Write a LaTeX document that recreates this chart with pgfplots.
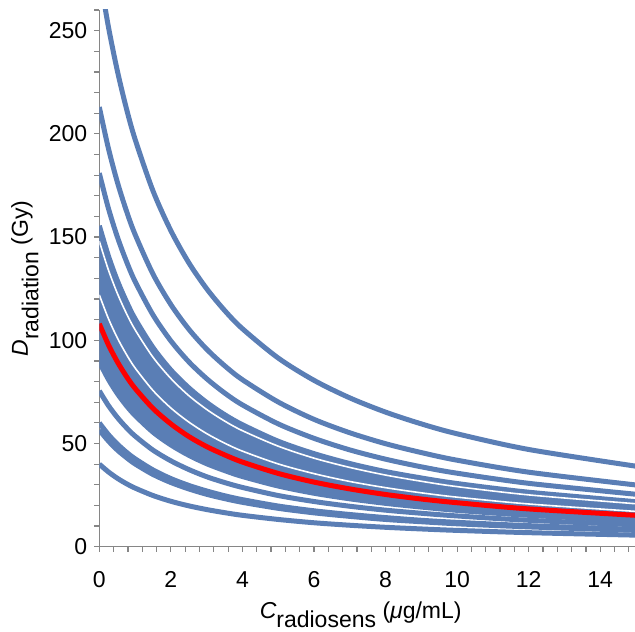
\documentclass[border=0pt]{standalone}
\usepackage{pgfplots}
\pgfplotsset{compat=1.18}
\usepgfplotslibrary{fillbetween}
\usepackage{fontspec}
\setmainfont{Liberation Sans}
\definecolor{cblue}{HTML}{5A7EB5}
\definecolor{axgray}{HTML}{868686}
\begin{document}
\begin{tikzpicture}
\begin{axis}[
 width=268.35pt, height=268.35pt, scale only axis,
 xmin=0, xmax=15, ymin=0, ymax=260,
 axis lines*=left,
 axis line style={axgray, line width=0.75pt},
 xtick={0,2,...,14}, ytick={0,50,...,250},
 minor xtick={0,0.4,...,15.1}, minor ytick={0,10,...,260},
 tick align=outside,
 major tick length=2.5pt, minor tick length=2.5pt,
 tick style={axgray, line width=0.6pt},
 every tick label/.append style={font=\fontsize{11.5}{13}\selectfont},
 xticklabel style={anchor=north, yshift=-6.5pt},
 /pgf/number format/assume math mode=true,
 xlabel={{\itshape C}\raisebox{-0.4em}{radiosens} (\textit{μ}g/mL)},
 ylabel={{\itshape D}\raisebox{-0.45em}{radiation} (Gy)},
 label style={font=\fontsize{11.5}{13}\selectfont},
 xlabel style={at={(axis description cs:0.487,0)}, anchor=base, yshift=-36pt},
 ylabel style={at={(axis description cs:-0.133,0.5)}, anchor=base},
 crv/.style={smooth, line width=2.5pt, cblue},
]
% band boundaries and fill
\addplot[crv, name path=upper] coordinates {(0,155.5) (0.25,141.1) (0.5,129.1) (0.75,119.1) (1,110.4) (1.5,96.5) (2,85.6) (2.5,77.0) (3,69.9) (3.5,64.0) (4,59.1) (5,51.1) (6,45.1) (7,40.3) (8,36.4) (9,33.3) (10,30.6) (12,26.4) (15,21.8)};
\addplot[crv, name path=lower] coordinates {(0,89.5) (0.25,81.2) (0.5,74.3) (0.75,68.5) (1,63.6) (1.5,55.5) (2,49.3) (2.5,44.3) (3,40.2) (3.5,36.9) (4,34.0) (5,29.4) (6,25.9) (7,23.2) (8,21.0) (9,19.2) (10,17.6) (12,15.2) (15,12.6)};
\addplot[cblue] fill between[of=upper and lower];
% white gaps inside band
\addplot[smooth, white, line width=0.8pt] coordinates {(0,148) (0.25,134.3) (0.5,122.9) (0.75,113.3) (1,105.1) (1.5,91.8) (2,81.5) (2.5,73.2) (3,66.5) (3.5,60.9) (4,56.2) (5,48.7) (6,42.9) (7,38.4) (8,34.7) (9,31.7) (10,29.1) (12,25.1) (15,20.8)};
\addplot[smooth, white, line width=0.8pt] coordinates {(0,122) (0.25,110.7) (0.5,101.3) (0.75,93.4) (1,86.6) (1.5,75.7) (2,67.2) (2.5,60.4) (3,54.8) (3.5,50.2) (4,46.3) (5,40.1) (6,35.4) (7,31.6) (8,28.6) (9,26.1) (10,24.0) (12,20.7) (15,17.1)};
% upper curves
\addplot[crv] coordinates {(0,278) (0.25,252.3) (0.5,230.9) (0.75,212.8) (1,197.4) (1.5,172.4) (2,153.1) (2.5,137.6) (3,125.0) (3.5,114.5) (4,105.6) (5,91.4) (6,80.6) (7,72.1) (8,65.2) (9,59.5) (10,54.7) (12,47.1) (15,39.0)};
\addplot[crv] coordinates {(0,213) (0.25,193.3) (0.5,176.9) (0.75,163.1) (1,151.3) (1.5,132.1) (2,117.3) (2.5,105.4) (3,95.7) (3.5,87.7) (4,80.9) (5,70.1) (6,61.7) (7,55.2) (8,49.9) (9,45.6) (10,41.9) (12,36.1) (15,29.9)};
\addplot[crv] coordinates {(0,181) (0.25,164.2) (0.5,150.3) (0.75,138.6) (1,128.5) (1.5,112.3) (2,99.7) (2.5,89.6) (3,81.4) (3.5,74.5) (4,68.7) (5,59.5) (6,52.5) (7,46.9) (8,42.4) (9,38.7) (10,35.6) (12,30.7) (15,25.4)};
% lower curves
\addplot[crv] coordinates {(0,75.5) (0.25,68.5) (0.5,62.7) (0.75,57.8) (1,53.6) (1.5,46.8) (2,41.6) (2.5,37.4) (3,33.9) (3.5,31.1) (4,28.7) (5,24.8) (6,21.9) (7,19.6) (8,17.7) (9,16.2) (10,14.9) (12,12.8) (15,10.6)};
\addplot[crv] coordinates {(0,60) (0.25,54.4) (0.5,49.8) (0.75,45.9) (1,42.6) (1.5,37.2) (2,33.0) (2.5,29.7) (3,27.0) (3.5,24.7) (4,22.8) (5,19.7) (6,17.4) (7,15.6) (8,14.1) (9,12.8) (10,11.8) (12,10.2) (15,8.4)};
\addplot[crv] coordinates {(0,56.5) (0.25,51.3) (0.5,46.9) (0.75,43.3) (1,40.1) (1.5,35.0) (2,31.1) (2.5,28.0) (3,25.4) (3.5,23.3) (4,21.5) (5,18.6) (6,16.4) (7,14.7) (8,13.2) (9,12.1) (10,11.1) (12,9.6) (15,7.9)};
\addplot[crv] coordinates {(0,40) (0.25,36.3) (0.5,33.2) (0.75,30.6) (1,28.4) (1.5,24.8) (2,22.0) (2.5,19.8) (3,18.0) (3.5,16.5) (4,15.2) (5,13.2) (6,11.6) (7,10.4) (8,9.4) (9,8.6) (10,7.9) (12,6.8) (15,5.6)};
% red reference curve
\addplot[smooth, red, line width=2.5pt] coordinates {(0,108) (0.25,98.0) (0.5,89.7) (0.75,82.7) (1,76.7) (1.5,67.0) (2,59.5) (2.5,53.4) (3,48.5) (3.5,44.5) (4,41.0) (5,35.5) (6,31.3) (7,28.0) (8,25.3) (9,23.1) (10,21.3) (12,18.3) (15,15.2)};
\end{axis}
\pgfresetboundingbox
\path ([xshift=-49.65pt, yshift=-42.15pt]current axis.south west) rectangle ([xshift=-0.5pt, yshift=5pt]current axis.north east);
\end{tikzpicture}
\end{document}
